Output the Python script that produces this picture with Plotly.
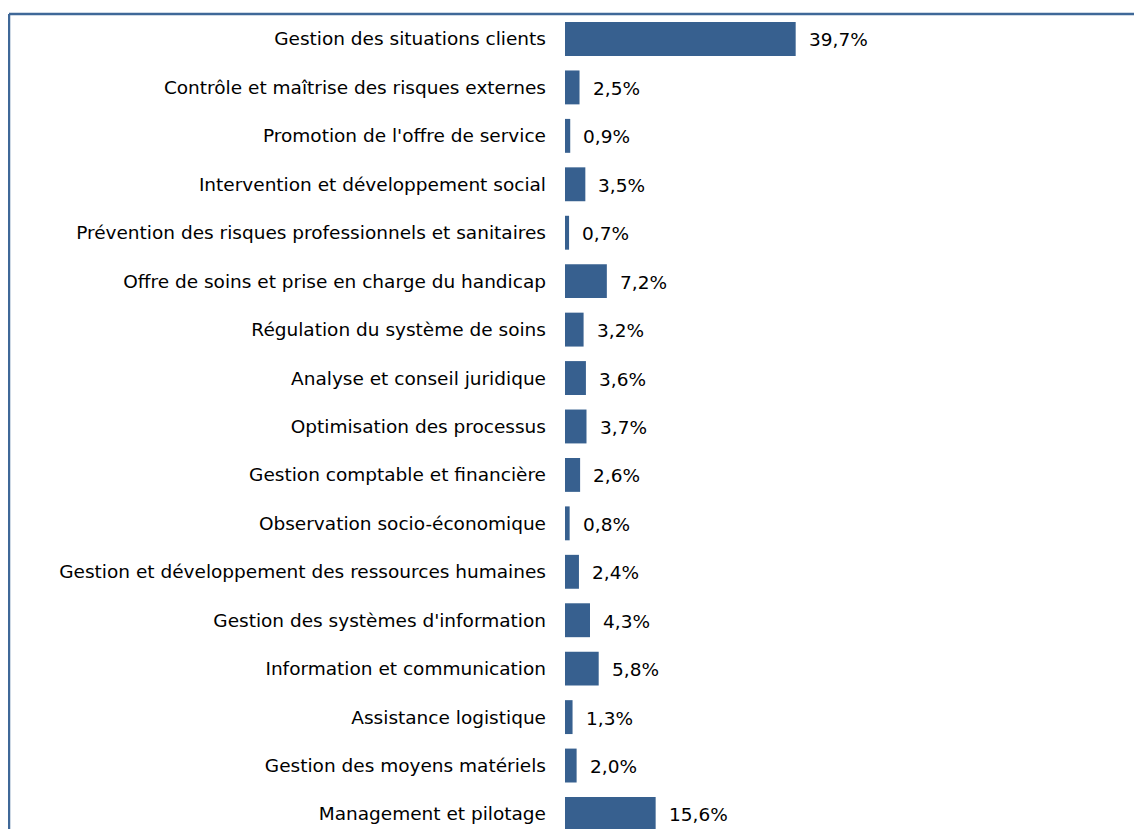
import plotly.graph_objects as go

categories = [
    "Gestion des situations clients",
    "Contrôle et maîtrise des risques externes",
    "Promotion de l'offre de service",
    "Intervention et développement social",
    "Prévention des risques professionnels et sanitaires",
    "Offre de soins et prise en charge du handicap",
    "Régulation du système de soins",
    "Analyse et conseil juridique",
    "Optimisation des processus",
    "Gestion comptable et financière",
    "Observation socio-économique",
    "Gestion et développement des ressources humaines",
    "Gestion des systèmes d'information",
    "Information et communication",
    "Assistance logistique",
    "Gestion des moyens matériels",
    "Management et pilotage",
]
values = [39.7, 2.5, 0.9, 3.5, 0.7, 7.2, 3.2, 3.6, 3.7, 2.6, 0.8, 2.4, 4.3, 5.8, 1.3, 2.0, 15.6]
labels = [f"{v:.1f}".replace(".", ",") + "%" for v in values]

BAR_COLOR = "#37608f"
BORDER_COLOR = "#3f6898"
FONT = "DejaVu Sans"
FS = 18.5

fig = go.Figure()
fig.add_trace(go.Bar(
    x=values, y=categories, orientation="h",
    marker=dict(color=BAR_COLOR, line=dict(width=0)),
    hoverinfo="skip",
))

for v, c, t in zip(values, categories, labels):
    fig.add_annotation(x=v, y=c, text=t, showarrow=False, xanchor="left",
                       xshift=11, yshift=-1,
                       font=dict(family=FONT, size=FS, color="#000000"))

# page body adds an 8px offset
W, H = 1134, 821
L, T = 557, 7
fig.update_layout(
    width=W, height=H,
    margin=dict(l=L, r=0, t=T, b=0, pad=0),
    plot_bgcolor="white", paper_bgcolor="white",
    bargap=0.3, showlegend=False,
    font=dict(family=FONT, size=FS, color="#000000"),
    xaxis=dict(range=[0, 99.3], visible=False, fixedrange=True),
    yaxis=dict(categoryorder="array", categoryarray=categories,
               range=[16.31, -0.495], showgrid=False, zeroline=False,
               showline=False, ticks="", ticklabelstandoff=18,
               tickfont=dict(family=FONT, size=FS, color="#000000")),
)

# frame border (top and left edges visible in the reference)
xl = (1 - L) / (W - L)
yt = 1 + 1 / (H - T)
fig.add_shape(type="line", xref="paper", yref="paper",
              x0=xl, x1=1.0, y0=yt, y1=yt,
              line=dict(color=BORDER_COLOR, width=2.5))
fig.add_shape(type="line", xref="paper", yref="paper",
              x0=xl, x1=xl, y0=0, y1=yt,
              line=dict(color=BORDER_COLOR, width=2.5))

fig.write_html("out.html", config={"displayModeBar": False})
